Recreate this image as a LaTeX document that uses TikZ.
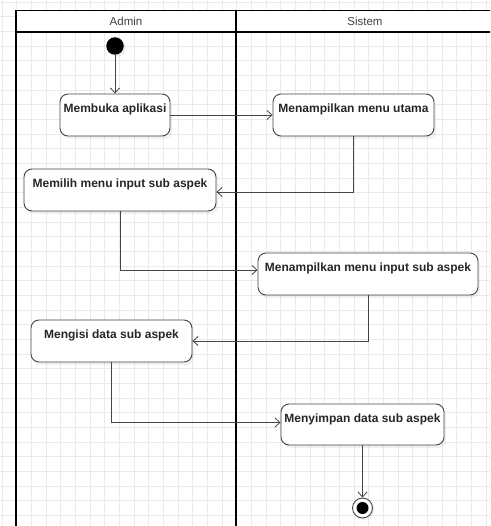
\documentclass[tikz,border=0pt]{standalone}
\usepackage{fontspec}
\setmainfont{Liberation Sans}
\usetikzlibrary{arrows.meta,shadows,calc}
\definecolor{gridc}{HTML}{EAEAEA}
\definecolor{edge}{HTML}{444444}
\tikzset{
  act/.style={draw=edge, line width=0.9pt, rounded corners=8pt, fill=white, inner sep=0pt,
    minimum height=42pt,
    drop shadow={shadow xshift=2pt, shadow yshift=-3pt, opacity=0.12}},
  actlbl/.style={font=\bfseries\fontsize{12}{14}\selectfont, text=black!85, anchor=base, inner sep=0pt},
  lanehead/.style={font=\fontsize{11.5}{14}\selectfont, text=black!75, inner sep=0pt},
  flow/.style={draw=edge, line width=0.8pt, -{Straight Barb[length=5pt,width=9pt]}},
  lane/.style={draw=black, line width=1.6pt},
}
\begin{document}
\begin{tikzpicture}[x=1pt,y=-1pt]
\useasboundingbox (0,0) rectangle (490,526);
\clip (0,0) rectangle (490,526);

% background grid
\foreach \i in {0,...,34} {
  \draw[gridc, line width=0.6pt] ({2+14.67*\i},0) -- ({2+14.67*\i},526);
}
\foreach \i in {0,...,36} {
  \draw[gridc, line width=0.6pt] (0,{2+14.67*\i}) -- (490,{2+14.67*\i});
}

% swimlanes
\fill[white] (16,10.5) rectangle (500,32);
\draw[lane] (500,10.5) -- (16,10.5) -- (16,540);
\draw[lane] (16,32) -- (500,32);
\draw[lane] (236,10.5) -- (236,540);
\node[lanehead] (hA) at (126,21.5) {Admin};
\node[lanehead] (hS) at (365,21.5) {Sistem};

% start and end
\node[circle, fill=black, inner sep=0pt, minimum size=17.5pt,
  drop shadow={shadow xshift=2pt, shadow yshift=-2pt, opacity=0.12}] (init) at (115,46) {};
\node[circle, draw=edge, line width=0.9pt, fill=white, inner sep=0pt, minimum size=20pt,
  drop shadow={shadow xshift=2pt, shadow yshift=-2pt, opacity=0.12}] (fin) at (362.5,508) {};
\node[circle, fill=black, inner sep=0pt, minimum size=12pt] (finc) at (fin) {};

% activities
\node[act, minimum width=110pt] (b1) at (115,115) {};
\node[act, minimum width=161pt] (b2) at (353.5,115) {};
\node[act, minimum width=192pt] (b3) at (120,190) {};
\node[act, minimum width=220pt] (b4) at (368,274) {};
\node[act, minimum width=161pt] (b5) at (111.5,341) {};
\node[act, minimum width=163pt, minimum height=41pt] (b6) at (362.5,424.5) {};

\node[actlbl] (t1) at ($(b1.north)+(0,18.5)$) {Membuka aplikasi};
\node[actlbl] (t2) at ($(b2.north)+(0,18.5)$) {Menampilkan menu utama};
\node[actlbl] (t3) at ($(b3.north)+(0,18.5)$) {Memilih menu input sub aspek};
\node[actlbl] (t4) at ($(b4.north)+(0,18.5)$) {Menampilkan menu input sub aspek};
\node[actlbl] (t5) at ($(b5.north)+(0,18.5)$) {Mengisi data sub aspek};
\node[actlbl] (t6) at ($(b6.north)+(0,18.5)$) {Menyimpan data sub aspek};

% control flow
\draw[flow] (init) -- (b1);
\draw[flow] (b1) -- (b2);
\draw[flow] (b2.south) |- ([yshift=-2pt]b3.east);
\draw[flow] (b3.south) |- ([yshift=4pt]b4.west);
\draw[flow] (b4.south) |- (b5.east);
\draw[flow] (b5.south) |- ([yshift=2pt]b6.west);
\draw[flow] (b6.south) -- (fin);
\end{tikzpicture}
\end{document}
